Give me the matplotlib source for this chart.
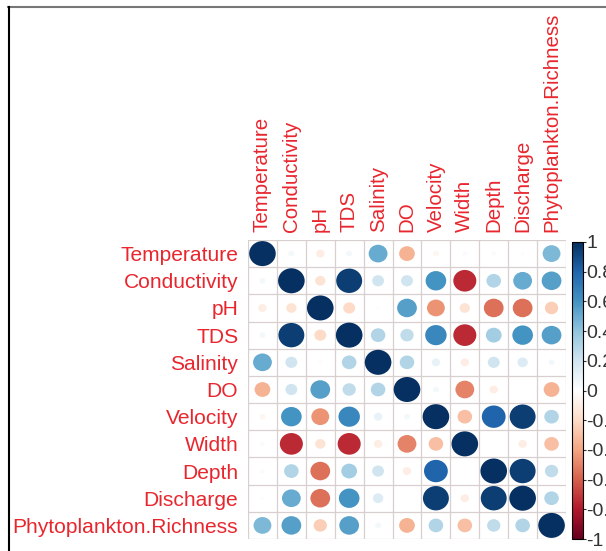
import numpy as np
import matplotlib
matplotlib.use("Agg")
import matplotlib.pyplot as plt
from matplotlib.colors import LinearSegmentedColormap, Normalize
from matplotlib.patches import Ellipse
from matplotlib.lines import Line2D
import matplotlib.cm as cm

plt.rcParams['font.family'] = ['Liberation Sans', 'DejaVu Sans']

variables = ["Temperature", "Conductivity", "pH", "TDS", "Salinity", "DO",
             "Velocity", "Width", "Depth", "Discharge", "Phytoplankton.Richness"]

# correlation matrix, one row per variable
corr_rows = [
    [1.00, 0.05, -0.10, 0.05, 0.50, -0.35, -0.05, 0.03, 0.03, 0.02, 0.45],
    [0.05, 1.00, -0.15, 0.95, 0.20, 0.20, 0.60, -0.75, 0.30, 0.50, 0.55],
    [-0.10, -0.15, 1.00, -0.20, 0.02, 0.55, -0.45, -0.15, -0.55, -0.55, -0.25],
    [0.05, 0.95, -0.20, 1.00, 0.30, 0.25, 0.65, -0.75, 0.35, 0.60, 0.55],
    [0.50, 0.20, 0.02, 0.30, 1.00, 0.30, 0.10, -0.10, 0.20, 0.15, 0.05],
    [-0.35, 0.20, 0.55, 0.25, 0.30, 1.00, 0.05, -0.50, -0.10, 0.00, -0.35],
    [-0.05, 0.60, -0.45, 0.65, 0.10, 0.05, 1.00, -0.30, 0.80, 0.95, 0.30],
    [0.03, -0.75, -0.15, -0.75, -0.10, -0.50, -0.30, 1.00, 0.00, -0.10, -0.30],
    [0.03, 0.30, -0.55, 0.35, 0.20, -0.10, 0.80, 0.00, 1.00, 0.95, 0.25],
    [0.02, 0.50, -0.55, 0.60, 0.15, 0.00, 0.95, -0.10, 0.95, 1.00, 0.30],
    [0.45, 0.55, -0.25, 0.55, 0.05, -0.35, 0.30, -0.30, 0.25, 0.30, 1.00],
]

cbar_ticks = [-1, -0.8, -0.6, -0.4, -0.2, 0, 0.2, 0.4, 0.6, 0.8, 1]
cbar_labels = ["-1", "-0.8", "-0.6", "-0.4", "-0.2", "0", "0.2", "0.4", "0.6", "0.8", "1"]

# corrplot's RdBu palette
palette = ["#67001F", "#B2182B", "#D6604D", "#F4A582", "#FDDBC7", "#FFFFFF",
           "#D1E5F0", "#92C5DE", "#4393C3", "#2166AC", "#053061"]
cmap = LinearSegmentedColormap.from_list("corr_rdbu", palette, N=256)
norm = Normalize(vmin=-1, vmax=1)

corr = np.array(corr_rows)
n = len(variables)

W, H = 606, 551
fig = plt.figure(figsize=(W / 100, H / 100), dpi=100)

ax = fig.add_axes([248 / W, (H - 539) / H, 318 / W, 299 / H])
ax.set_xlim(0, n)
ax.set_ylim(n, 0)

for k in range(n + 1):
    ax.axvline(k, color="#d8cfcf", lw=0.9, zorder=1)
    ax.axhline(k, color="#d8cfcf", lw=0.9, zorder=1)

for i in range(n):
    for j in range(n):
        r = corr[i, j]
        d = 0.92 * np.sqrt(abs(r))
        if d == 0:
            continue
        ax.add_patch(Ellipse((j + 0.5, i + 0.5), d, d, facecolor=cmap(norm(r)),
                             edgecolor="none", zorder=2))

ax.set_xticks(np.arange(n) + 0.5)
ax.set_yticks(np.arange(n) + 0.5)
ax.set_xticklabels(variables, rotation=90, color="#e8262e", fontsize=14.8)
ax.set_yticklabels(variables, color="#e8262e", fontsize=15.1)
ax.xaxis.tick_top()
ax.tick_params(axis="x", length=0, pad=6)
ax.tick_params(axis="y", length=0, pad=7)
for s in ax.spines.values():
    s.set_visible(False)

# colour legend
cax = fig.add_axes([572 / W, (H - 539) / H, 11 / W, 297 / H])
sm = cm.ScalarMappable(norm=norm, cmap=cmap)
cb = fig.colorbar(sm, cax=cax, ticks=cbar_ticks)
cb.ax.set_yticklabels(cbar_labels)
cb.ax.tick_params(labelsize=14, length=2.5, width=0.8, pad=0, colors="#333333")
cb.outline.set_linewidth(0.8)

# window frame
fig.add_artist(Line2D([8 / W, 1], [1 - 7 / H, 1 - 7 / H], color="#777777", lw=1.5))
fig.add_artist(Line2D([9 / W, 9 / W], [0, 1 - 7 / H], color="black", lw=1.5))

fig.savefig("out.png", dpi=100)
